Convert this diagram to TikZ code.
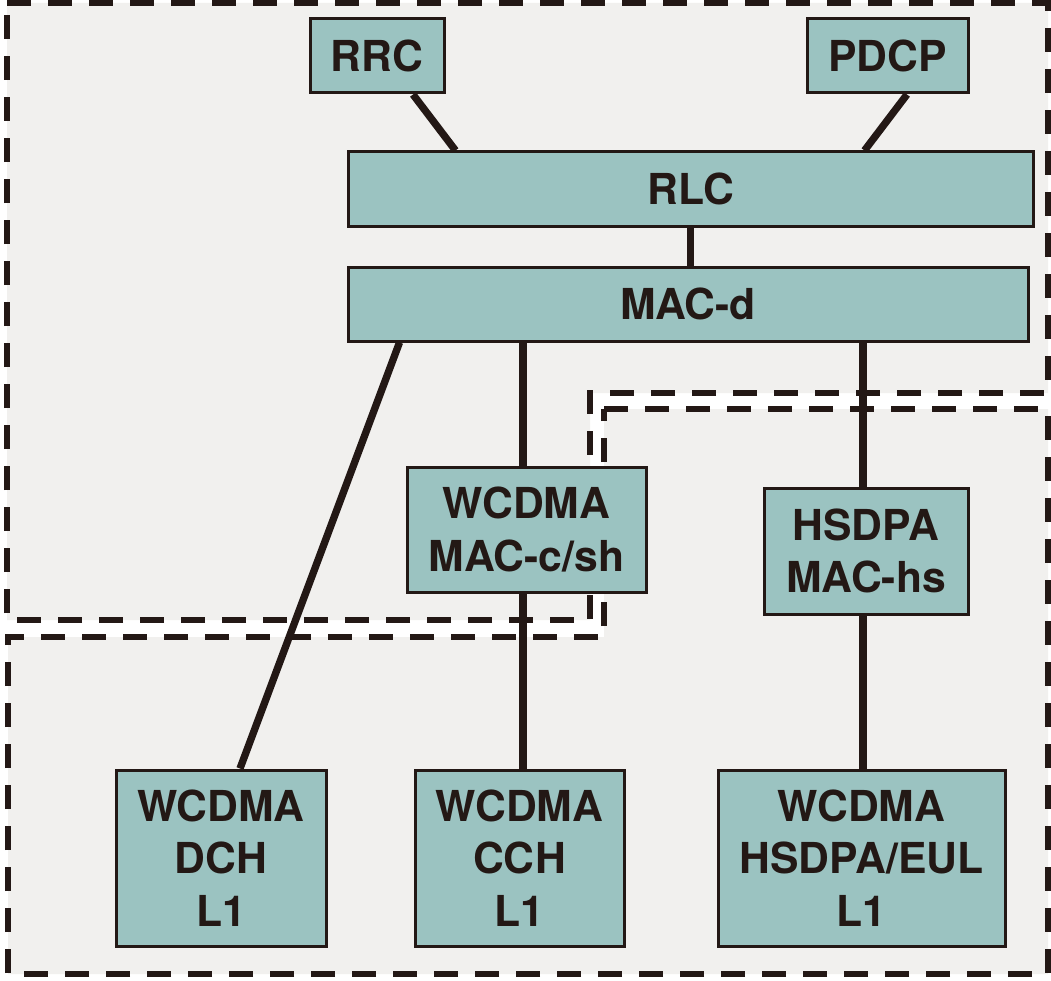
\documentclass[tikz,border=0pt]{standalone}
\usepackage{fontspec}
\setmainfont{TeX Gyre Heros}
\definecolor{boxfill}{HTML}{9BC3C1}
\definecolor{ink}{HTML}{231815}
\definecolor{areafill}{HTML}{F1F0EE}
\begin{document}
\begin{tikzpicture}[
		x=0.75pt, y=-0.75pt,
		box/.style={draw=ink, line width=2.25pt, fill=boxfill, text=ink, inner sep=0pt, align=center,
			font=\fontsize{32}{39.5}\selectfont\bfseries},
		link/.style={ink, line width=5.5pt},
		area/.style={draw=ink, fill=areafill, line width=4.5pt, dash pattern=on 18pt off 12.75pt},
		line join=miter
		]
		\useasboundingbox[fill=white] (0,0) rectangle (1051,981);
		
		% ---- areas ----
		\draw[area] (7,3) -- (1048,3) -- (1048,393) -- (590,393) -- (590,620) -- (7,620) -- cycle;
		\draw[area] (604,409) -- (1048,409) -- (1048,974) -- (8,974) -- (8,637) -- (604,637) -- cycle;
		
		% ---- boxes ----
		\node[box, minimum width=100.5pt, minimum height=55.5pt] (rrc) at (377,56) {RRC};
		\node[box, minimum width=120.75pt, minimum height=55.5pt] (pdcp) at (887.5,56) {PDCP};
		\node[box, minimum width=513.75pt, minimum height=55.5pt] (rlc) at (690.5,189) {RLC};
		\node[box, minimum width=510pt, minimum height=55.5pt] (macd) at (688,304) {MAC-d};
		
		\node[box, minimum width=179.25pt, minimum height=93.75pt] (maccsh) at (526.5,529.5) {WCDMA\\MAC-c/sh};
		\node[box, minimum width=153pt, minimum height=94.5pt] (machs) at (866,551) {HSDPA\\MAC-hs};
		
		\node[box, minimum width=157.5pt, minimum height=132pt] (dch) at (221,858) {WCDMA\\DCH\\L1};
		\node[box, minimum width=156.75pt, minimum height=132pt] (cch) at (519.5,858) {WCDMA\\CCH\\L1};
		\node[box, minimum width=215.25pt, minimum height=132pt] (eul) at (861.5,858) {WCDMA\\HSDPA/EUL\\L1};
		
		% ---- links ----
		\draw[link] ([xshift=27pt]rrc.south) -- ([xshift=81.75pt]rlc.north west);
		\draw[link] ([xshift=14.6pt]pdcp.south) -- ([xshift=-127.5pt]rlc.north east);
		\draw[link] (rlc.south) -- (rlc.south |- macd.north);
		
		\draw[link] ([xshift=39.75pt]macd.south west) -- ([xshift=14.25pt]dch.north);
		\draw[link] ([xshift=-2.6pt]maccsh.north |- macd.south) -- ([xshift=-2.6pt]maccsh.north);
		\draw[link] ([xshift=-2.6pt]maccsh.south) -- ([xshift=-2.6pt]maccsh.south |- cch.north);
		\draw[link] ([xshift=-2.25pt]machs.north |- macd.south) -- ([xshift=-2.25pt]machs.north);
		\draw[link] ([xshift=-2.25pt]machs.south) -- ([xshift=-2.25pt]machs.south |- eul.north);
	\end{tikzpicture}
\end{document}
